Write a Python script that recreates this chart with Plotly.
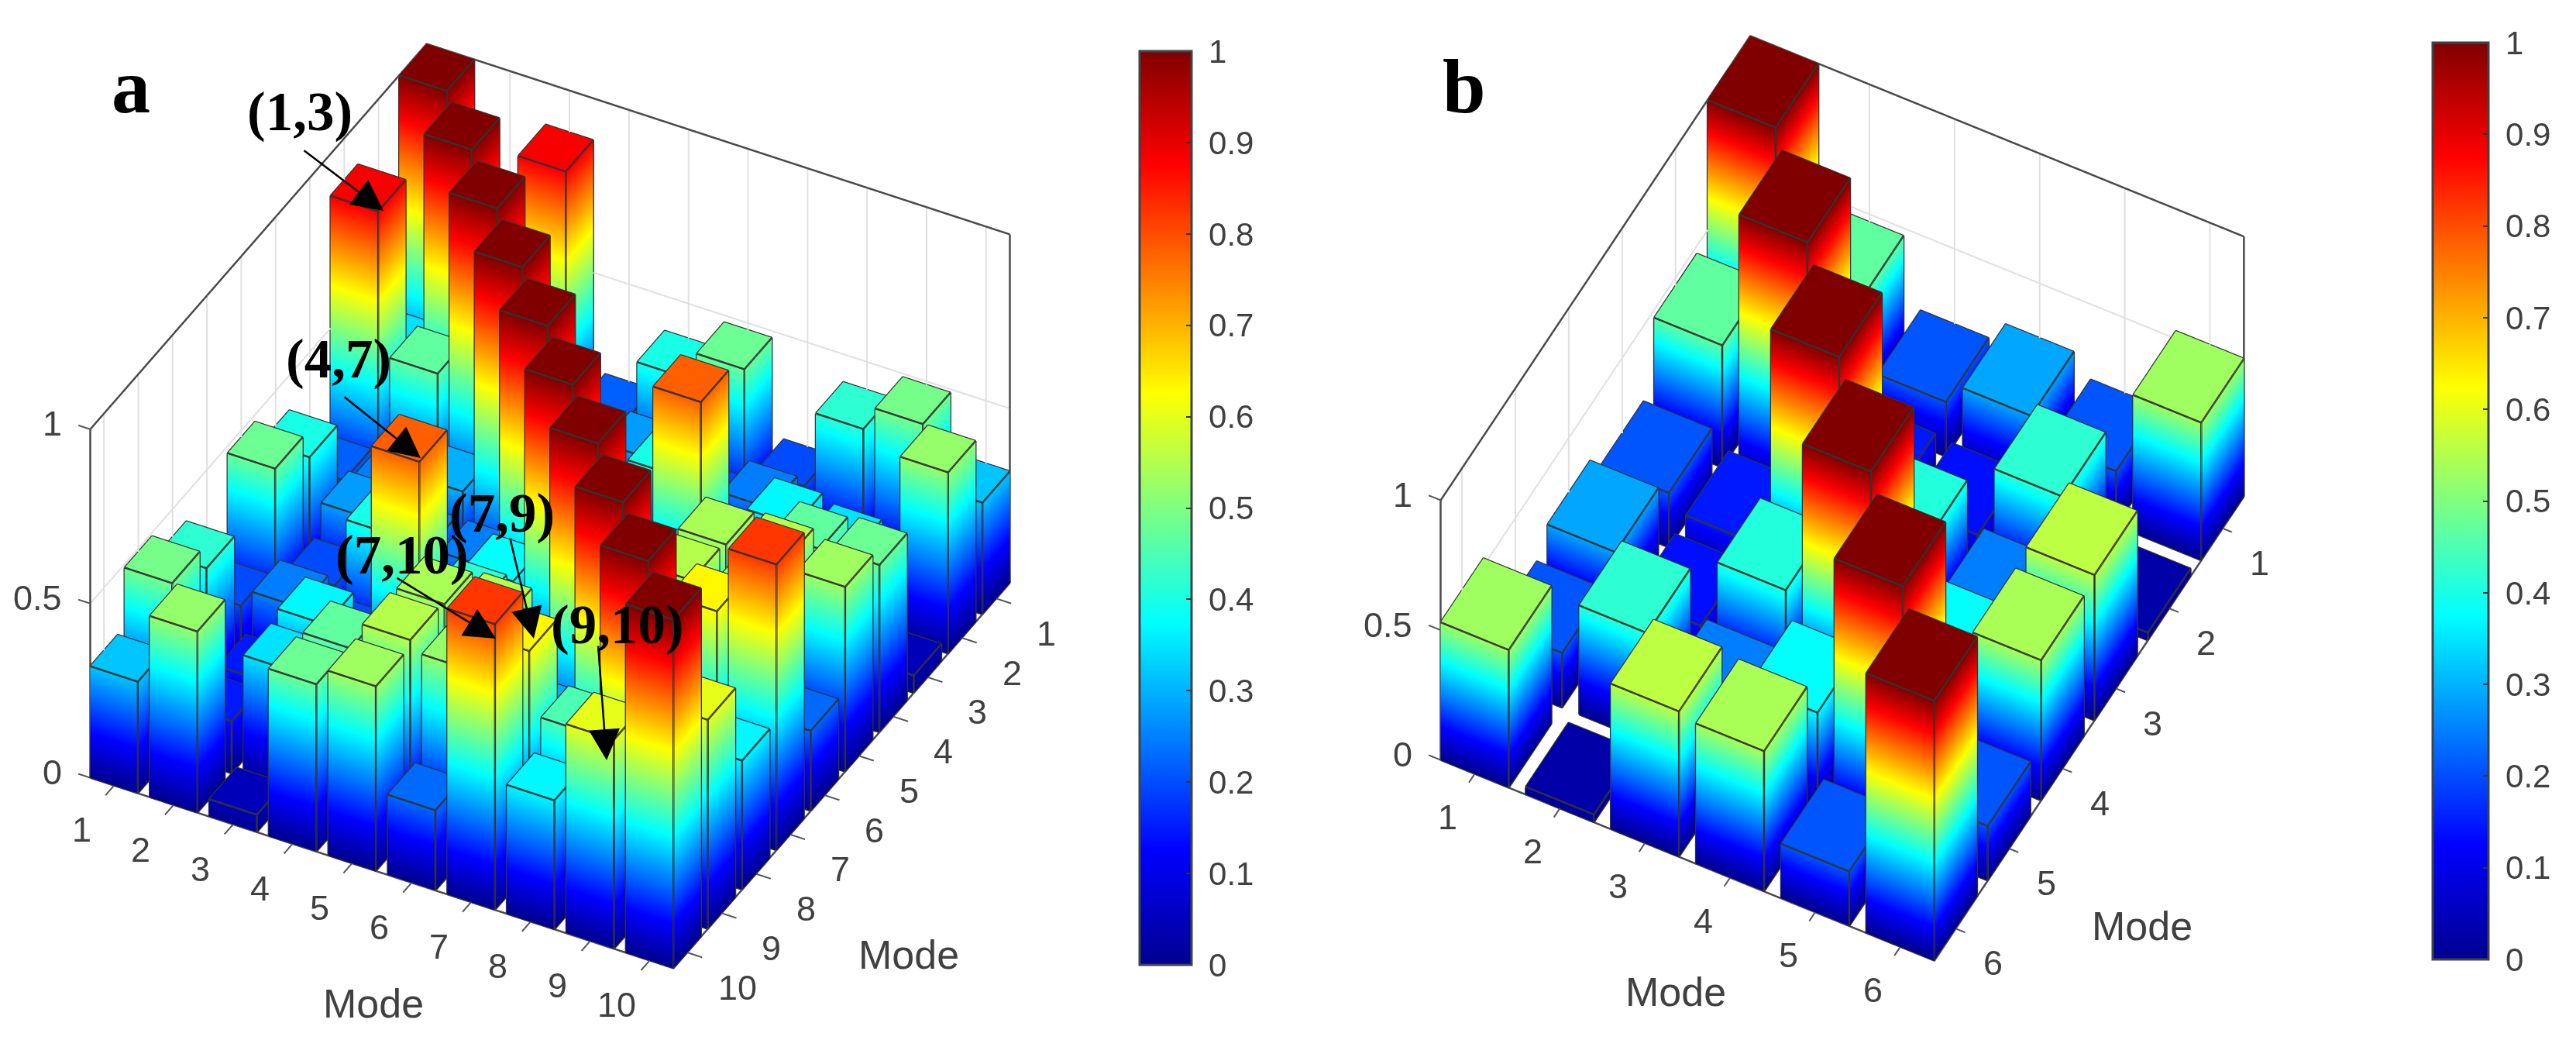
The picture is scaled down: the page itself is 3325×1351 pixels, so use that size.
import math
import plotly.graph_objects as go

W, H = 3325, 1351

modes_a = [1, 2, 3, 4, 5, 6, 7, 8, 9, 10]
modes_b = [1, 2, 3, 4, 5, 6]

a_row1 = [1.00, 0.35, 0.88, 0.22, 0.40, 0.48, 0.20, 0.42, 0.49, 0.32]
a_row2 = [0.35, 1.00, 0.47, 0.25, 0.28, 0.20, 0.25, 0.15, 0.15, 0.52]
a_row3 = [0.88, 0.47, 1.00, 0.30, 0.25, 0.40, 0.20, 0.37, 0.35, 0.05]
a_row4 = [0.22, 0.25, 0.30, 1.00, 0.25, 0.25, 0.78, 0.30, 0.47, 0.48]
a_row5 = [0.40, 0.28, 0.25, 0.25, 1.00, 0.38, 0.42, 0.54, 0.55, 0.53]
a_row6 = [0.48, 0.20, 0.40, 0.25, 0.38, 1.00, 0.30, 0.55, 0.52, 0.23]
a_row7 = [0.20, 0.25, 0.20, 0.78, 0.42, 0.30, 1.00, 0.30, 0.63, 0.82]
a_row8 = [0.42, 0.15, 0.37, 0.30, 0.54, 0.55, 0.30, 1.00, 0.45, 0.37]
a_row9 = [0.49, 0.15, 0.35, 0.47, 0.55, 0.52, 0.63, 0.45, 1.00, 0.60]
a_row10 = [0.32, 0.52, 0.05, 0.48, 0.53, 0.23, 0.82, 0.37, 0.60, 1.00]
rows_a = [a_row1, a_row2, a_row3, a_row4, a_row5, a_row6, a_row7, a_row8, a_row9, a_row10]

b_row1 = [1.00, 0.47, 0.21, 0.29, 0.21, 0.53]
b_row2 = [0.47, 1.00, 0.15, 0.14, 0.42, 0.03]
b_row3 = [0.21, 0.15, 1.00, 0.41, 0.25, 0.56]
b_row4 = [0.29, 0.14, 0.41, 1.00, 0.38, 0.54]
b_row5 = [0.21, 0.42, 0.25, 0.38, 1.00, 0.21]
b_row6 = [0.53, 0.03, 0.56, 0.54, 0.21, 1.00]
rows_b = [b_row1, b_row2, b_row3, b_row4, b_row5, b_row6]

cbar_ticks = [0, 0.1, 0.2, 0.3, 0.4, 0.5, 0.6, 0.7, 0.8, 0.9, 1]
cbar_labels = ["\u00a00", "\u00a00.1", "\u00a00.2", "\u00a00.3", "\u00a00.4", "\u00a00.5", "\u00a00.6", "\u00a00.7", "\u00a00.8", "\u00a00.9", "\u00a01"]
z_ticks = [0, 0.5, 1]
z_labels = ["0", "0.5", "1"]

JET = [[0, "#00008f"], [0.125, "#0000ff"], [0.375, "#00ffff"], [0.625, "#ffff00"],
       [0.875, "#ff0000"], [1, "#800000"]]
BAR_W = 0.8
TXT = "#404040"


def bars(rows, modes):
    X, Y, Z, I, J, K = [], [], [], [], [], []
    ex, ey, ez = [], [], []
    hw = BAR_W / 2
    for iy, row in enumerate(rows):
        for ix, v in enumerate(row):
            xc, yc = modes[ix], -modes[iy]
            v = max(v, 0.001)
            c = [(xc - hw, yc - hw), (xc + hw, yc - hw), (xc + hw, yc + hw), (xc - hw, yc + hw)]
            n = len(X)
            for p in c:
                X.append(p[0]); Y.append(p[1]); Z.append(0)
            for p in c:
                X.append(p[0]); Y.append(p[1]); Z.append(v)
            for q in range(4):
                r = (q + 1) % 4
                I += [n + q, n + q]; J += [n + r, n + r + 4]; K += [n + r + 4, n + q + 4]
            I += [n + 4, n + 4]; J += [n + 5, n + 6]; K += [n + 6, n + 7]
            seq = c + [c[0]]
            for h in (0, v):
                for p in seq:
                    ex.append(p[0]); ey.append(p[1]); ez.append(h)
                ex.append(None); ey.append(None); ez.append(None)
            for p in c:
                ex += [p[0], p[0], None]; ey += [p[1], p[1], None]; ez += [0, v, None]
    return X, Y, Z, I, J, K, ex, ey, ez


def frame(n, tick, ztick):
    lo, hi = 0.6, n + 0.4
    bx, by, bz = [], [], []   # dark box
    gx, gy, gz = [], [], []   # light grid
    tx, ty, tz = [], [], []   # ticks

    def seg(ax, ay, az, p, q):
        ax += [p[0], q[0], None]; ay += [-p[1], -q[1], None]; az += [p[2], q[2], None]

    seg(bx, by, bz, (lo, hi, 0), (lo, hi, 1))
    seg(bx, by, bz, (lo, hi, 1), (lo, lo, 1))
    seg(bx, by, bz, (lo, lo, 1), (hi, lo, 1))
    seg(bx, by, bz, (hi, lo, 1), (hi, lo, 0))
    seg(bx, by, bz, (lo, hi, 0), (hi, hi, 0))
    seg(bx, by, bz, (hi, hi, 0), (hi, lo, 0))
    for k in range(1, n + 1):
        seg(gx, gy, gz, (lo, k, 0), (lo, k, 1))
        seg(gx, gy, gz, (k, lo, 0), (k, lo, 1))
        seg(tx, ty, tz, (k, hi, 0), (k, hi + tick, 0))
        seg(tx, ty, tz, (hi, k, 0), (hi + tick, k, 0))
    seg(gx, gy, gz, (lo, hi, 0.5), (lo, lo, 0.5))
    seg(gx, gy, gz, (lo, lo, 0.5), (hi, lo, 0.5))
    seg(gx, gy, gz, (lo, lo, 0), (lo, hi, 0))
    seg(gx, gy, gz, (lo, lo, 0), (hi, lo, 0))
    for v in z_ticks:
        seg(tx, ty, tz, (lo, hi, v), (lo - ztick, hi, v))
    return (bx, by, bz), (gx, gy, gz), (tx, ty, tz)


def px(x):
    return x / W


def py(y):
    return 1 - y / H


fig = go.Figure()


def add_panel(scene, rows, modes, cb_left, cb_right, cb_top, cb_bot, tick, ztick):
    X, Y, Z, I, J, K, ex, ey, ez = bars(rows, modes)
    fig.add_trace(go.Mesh3d(
        x=X, y=Y, z=Z, i=I, j=J, k=K, intensity=Z, intensitymode="vertex",
        colorscale=JET, cmin=0, cmax=1, flatshading=True, scene=scene, hoverinfo="skip",
        lighting=dict(ambient=1, diffuse=0, specular=0, roughness=1, fresnel=0),
        colorbar=dict(
            x=px(cb_left), xanchor="left", xpad=0, ypad=0, thickness=cb_right - cb_left,
            y=py(cb_top), yanchor="top", len=(cb_bot - cb_top) / H, lenmode="fraction",
            tickmode="array", tickvals=cbar_ticks, ticktext=cbar_labels,
            ticks="inside", ticklen=8, tickcolor="#333333", tickwidth=2,
            outlinecolor="#3c4448", outlinewidth=3,
            tickfont=dict(family="Liberation Sans", size=42, color=TXT)),
    ))
    (b, g, t) = frame(len(modes), tick, ztick)
    fig.add_trace(go.Scatter3d(x=g[0], y=g[1], z=g[2], mode="lines", scene=scene, hoverinfo="skip",
                               showlegend=False, line=dict(color="#e0e0e0", width=4)))
    fig.add_trace(go.Scatter3d(x=b[0], y=b[1], z=b[2], mode="lines", scene=scene, hoverinfo="skip",
                               showlegend=False, line=dict(color="#4a4a4a", width=5)))
    fig.add_trace(go.Scatter3d(x=t[0], y=t[1], z=t[2], mode="lines", scene=scene, hoverinfo="skip",
                               showlegend=False, line=dict(color="#555555", width=4)))
    fig.add_trace(go.Scatter3d(x=ex, y=ey, z=ez, mode="lines", scene=scene, hoverinfo="skip",
                               showlegend=False, line=dict(color="#333333", width=5)))


add_panel("scene", rows_a, modes_a, 1471, 1538, 66, 1245, 0.25, 0.2)
add_panel("scene2", rows_b, modes_b, 3140, 3212, 55, 1238, 0.11, 0.14)


def axis_off(lo, hi):
    return dict(visible=False, range=[lo, hi], showspikes=False)


def scene_layout(n, dom, azim, elev, a, b, c, scale, labels_off):
    hw = n * 0.75
    mid = (n + 1) / 2
    s = scale / 1000
    az, el = math.radians(azim), math.radians(elev)
    off_x, off_xshift, off_xs, off_y, off_ys = labels_off
    lo, hi = 0.6, n + 0.4
    ann = []
    tf = dict(family="Liberation Sans", size=45, color=TXT)
    for k in range(1, n + 1):
        ann.append(dict(x=k, y=-(hi + off_x), z=0, text=str(k), showarrow=False, xshift=off_xshift, yshift=off_xs,
                        xanchor="center", yanchor="middle", font=tf))
        ann.append(dict(x=hi + off_y, y=-k, z=0, text=str(k), showarrow=False, yshift=off_ys,
                        xanchor="center", yanchor="middle", font=tf))
    for v, t in zip(z_ticks, z_labels):
        ann.append(dict(x=lo, y=-hi, z=v, text=t, showarrow=False, xanchor="right", yanchor="middle",
                        xshift=-34, yshift=7, font=tf))
    r = 2.0
    span = 2 * hw / (n - 0.2)
    return dict(
        domain=dom,
        xaxis=axis_off(mid - hw, mid + hw),
        yaxis=axis_off(-mid - hw, -mid + hw),
        zaxis=axis_off(-0.1, 1.1),
        aspectmode="manual",
        aspectratio=dict(x=a * s * span, y=b * s * span, z=c * s * 1.2),
        camera=dict(
            projection=dict(type="orthographic"),
            up=dict(x=0, y=0, z=1),
            center=dict(x=0, y=0, z=0),
            eye=dict(x=r * math.cos(az) * math.cos(el), y=r * math.sin(az) * math.cos(el), z=r * math.sin(el)),
        ),
        annotations=ann,
    )


fig.update_layout(
    width=W, height=H, margin=dict(l=0, r=0, t=0, b=0), paper_bgcolor="white", showlegend=False,
    scene=scene_layout(10, dict(x=[0, 1420 / W], y=[py(1306), 1]), -61.9, 37.7, 847, 915, 564, 1.543,
                       (1.13, 8, 0, 0.84, -24)),
    scene2=scene_layout(6, dict(x=[1737.5 / W, 3017.5 / W], y=[py(1286), 1]), -62.5, 51.3, 713, 859, 532, 1.567,
                        (0.5, 0, -4, 0.44, -25)),
)

serif = "Liberation Serif"
notes = [
    ("a", 169, 112, 100), ("b", 1890, 112, 100),
    ("(1,3)", 387, 144, 71), ("(4,7)", 437, 463, 71), ("(7,10)", 519, 716, 71),
    ("(7,9)", 648, 662, 71), ("(9,10)", 797, 807, 71),
]
for text, x, y, size in notes:
    fig.add_annotation(xref="paper", yref="paper", x=px(x), y=py(y), text="<b>%s</b>" % text,
                       xanchor="center", yanchor="middle",
                       showarrow=False, font=dict(family=serif, size=size, color="black"))

arrows = [
    (391, 193, 495, 272), (443, 511, 543, 591), (511, 745, 640, 824),
    (658, 693, 689, 824), (772, 832, 783, 981),
]
for x0, y0, x1, y1 in arrows:
    fig.add_annotation(xref="paper", yref="paper", x=px(x1), y=py(y1), ax=x0 - x1, ay=y0 - y1, text="",
                       xanchor="center", yanchor="middle",
                       showarrow=True, arrowhead=2, arrowsize=3.2, arrowwidth=2.5, arrowcolor="black")

for text, x, y in [("Mode", 482, 1295), ("Mode", 1173, 1232), ("Mode", 2163, 1280), ("Mode", 2765, 1195)]:
    fig.add_annotation(xref="paper", yref="paper", x=px(x), y=py(y), text=text, showarrow=False,
                       xanchor="center", yanchor="middle",
                       font=dict(family="Liberation Sans", size=52, color=TXT))

fig.write_html("out.html", config={"displayModeBar": False},
               post_script="document.body.style.margin='0';document.body.style.overflow='hidden';")
